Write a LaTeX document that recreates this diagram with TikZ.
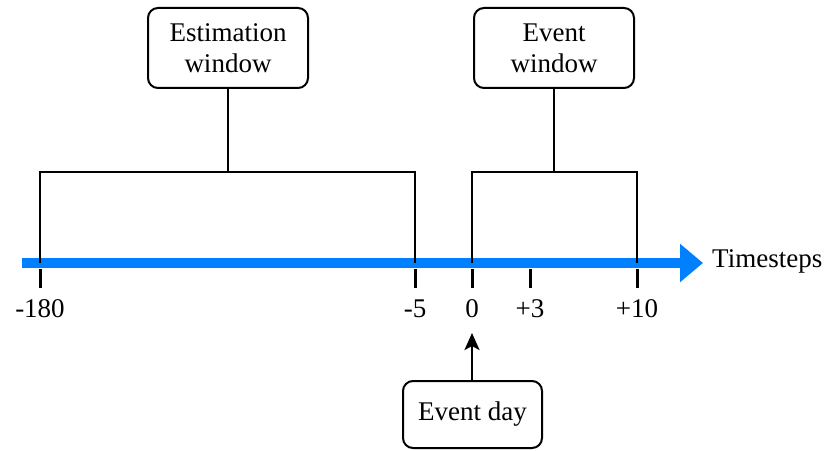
\documentclass[tikz,border=0pt]{standalone}
\usepackage{fontspec}
\setmainfont{Liberation Serif}
\usetikzlibrary{arrows.meta}
\definecolor{axisblue}{RGB}{0,127,255}
\tikzset{
    window-box/.style = {draw, line width=2pt, rectangle, rounded corners=10pt, align=center, minimum width=160pt, minimum height=80pt, inner sep=0pt},
    day-box/.style = {draw, line width=2pt, rectangle, rounded corners=10pt, minimum width=139pt, minimum height=67pt, inner sep=0pt},
    bracket/.style = {draw, line width=1.6pt},
    tick-mark/.style = {draw, line width=3pt},
    time-axis/.style = {draw=axisblue, line width=10pt, -{Triangle[length=23pt,width=37pt]}},
    pointer/.style = {draw, line width=2.6pt, -{Stealth[length=17pt,width=15pt,inset=4pt]}},
}

\begin{document}
\begin{tikzpicture}[x=1pt, y=1pt, font=\fontsize{27}{31}\selectfont]
\useasboundingbox (0,0) rectangle (826,450);
% axis
\coordinate (axisstart) at (22,187);
\coordinate (axisend) at (703,187);
\coordinate (bartop) at (0,278);
\coordinate (daytip) at (472,117);
\draw[time-axis] (axisstart) -- (axisend);
\node[anchor=west, inner sep=0pt] (steps) at (712,189) {Timesteps};
% ticks and labels
\foreach \x/\lab/\name in {40/-180/t180, 415/-5/t5, 472/0/t0, 530/+3/t3, 637/+10/t10}{
    \coordinate (\name) at (\x,187);
    \draw[tick-mark] (\x,181) -- (\x,162);
    \node (lab\name) at (\x,141) {\lab};
}
% windows
\node[window-box] (est) at (228,402) {Estimation\\window};
\node[window-box] (evt) at (554,402) {Event\\window};
\draw[bracket] (t180) -- (t180 |- bartop) -- (t5 |- bartop) -- (t5);
\draw[bracket] (est.south) -- (est.south |- bartop);
\draw[bracket] (t0) -- (t0 |- bartop) -- (t10 |- bartop) -- (t10);
\draw[bracket] (evt.south) -- (evt.south |- bartop);
% event day
\node[day-box] (eday) at (472.5,35.5) {Event day};
\draw[pointer] (eday.north -| daytip) -- (daytip);
\end{tikzpicture}
\end{document}
